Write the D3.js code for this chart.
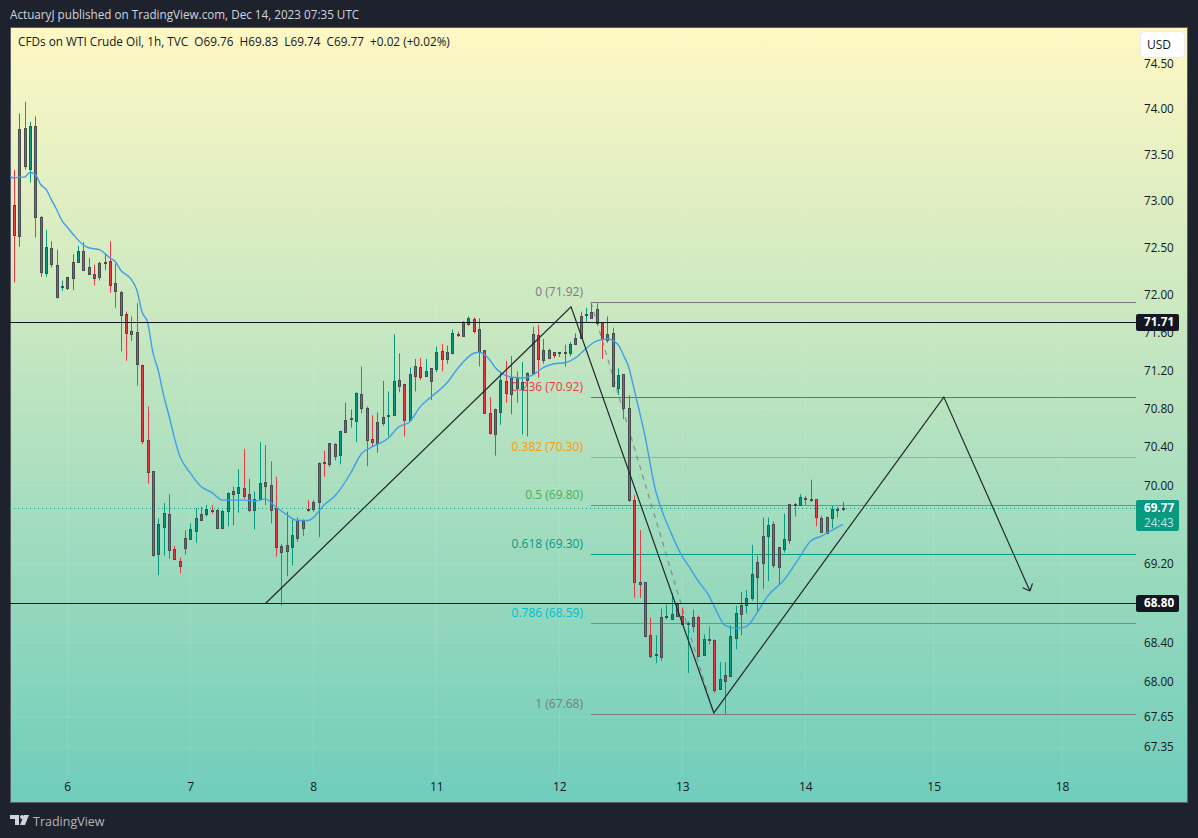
<!DOCTYPE html>
<html>
<head>
<meta charset="utf-8">
<script src="https://cdn.jsdelivr.net/npm/d3@7"></script>
<style>
  html, body { margin: 0; padding: 0; background: #1e222d; }
  svg { display: block; }
  text { font-family: "Open Sans", "Noto Sans", sans-serif; }
</style>
</head>
<body>
<script>
// hourly bars
var opens = [72.91,72.96,72.62,73.79,73.34,73.81,72.83,72.23,72.50,72.32,72.08,72.07,72.18,72.35,72.47,72.29,72.22,72.19,72.34,72.36,72.12,72.03,71.80,71.61,71.60,71.26,70.47,70.15,69.29,69.58,69.71,69.35,69.23,69.36,69.45,69.54,69.65,69.71,69.75,69.75,69.57,69.73,69.91,69.93,69.98,69.91,69.75,69.86,70.04,70.01,69.77,69.38,69.33,69.37,69.47,69.63,69.76,69.76,69.83,70.24,70.22,70.43,70.32,70.56,70.69,70.67,70.95,70.81,70.48,70.44,70.65,70.72,70.73,71.10,71.06,70.68,71.14,71.24,71.14,71.08,71.21,71.40,71.32,71.38,71.58,71.56,71.69,71.74,71.64,71.41,70.75,70.54,70.77,71.09,70.95,71.12,71.01,71.10,71.17,71.57,71.30,71.41,71.39,71.39,71.38,71.38,71.48,71.54,71.78,71.76,71.85,71.70,71.52,71.59,71.01,71.16,70.81,69.85,69.01,69.01,68.47,68.27,68.26,68.66,68.64,68.79,68.67,68.58,68.57,68.66,68.27,68.43,68.42,67.93,68.01,68.06,68.45,68.69,68.78,68.85,69.07,69.20,69.48,69.60,69.17,69.35,69.44,69.81,69.80,69.87,69.85,69.86,69.67,69.52,69.67,69.76,69.76];
var highs = [73.02,73.34,73.95,74.08,73.86,73.92,72.84,72.69,72.57,72.48,72.15,72.19,72.43,72.52,72.56,72.39,72.32,72.35,72.44,72.57,72.33,72.04,71.82,71.77,71.91,71.26,70.82,70.15,69.66,69.82,69.91,69.38,69.26,69.54,69.61,69.77,69.78,69.80,69.80,69.76,69.75,69.93,69.99,70.17,70.38,70.07,69.94,70.45,70.42,70.25,70.09,69.40,69.73,69.65,69.67,69.65,69.85,69.85,70.24,70.36,70.44,70.44,70.57,70.86,70.79,70.97,71.24,70.82,70.73,70.76,71.09,70.98,71.58,71.38,71.06,71.23,71.32,71.33,71.32,71.22,71.45,71.48,71.46,71.63,71.61,71.72,71.77,71.76,71.75,71.41,70.92,70.80,71.19,71.30,71.35,71.19,71.29,71.18,71.66,71.68,71.53,71.43,71.39,71.39,71.47,71.50,71.59,71.82,71.86,71.90,71.91,71.70,71.77,71.65,71.22,71.16,70.94,69.90,69.54,69.01,68.65,68.47,68.74,68.78,68.90,68.80,68.75,68.61,68.73,68.67,68.48,68.56,68.43,68.20,68.20,68.57,68.77,68.91,68.93,69.39,69.28,69.67,69.67,69.63,69.37,69.71,69.81,69.82,69.91,69.89,70.06,69.86,69.69,69.68,69.79,69.78,69.83];
var lows = [72.86,72.13,72.51,73.34,73.20,72.61,72.19,72.19,72.29,71.96,72.04,72.05,72.05,72.34,72.27,72.21,72.10,72.15,72.26,72.02,71.86,71.40,71.30,71.51,71.04,70.43,70.02,69.27,69.08,69.28,69.25,69.25,69.10,69.29,69.45,69.41,69.64,69.68,69.71,69.55,69.56,69.58,69.59,69.72,69.86,69.73,69.55,69.86,69.80,69.61,69.27,68.77,69.07,69.18,69.42,69.48,69.73,69.73,69.47,70.09,70.19,70.26,70.22,70.56,70.60,70.45,70.75,70.20,70.40,70.34,70.62,70.51,70.72,70.97,70.51,70.67,70.98,71.10,71.13,70.89,71.18,71.19,71.27,71.37,71.55,71.56,71.67,71.59,71.24,70.75,70.53,70.31,70.63,70.86,70.74,70.86,70.53,70.51,71.17,71.12,71.27,71.33,71.33,71.34,71.24,71.35,71.48,71.54,71.70,71.75,71.68,71.32,71.49,71.02,70.94,70.69,69.83,68.85,68.85,68.45,68.24,68.19,68.21,68.63,68.64,68.66,68.58,68.09,68.50,68.27,68.27,68.38,67.89,67.92,67.68,68.06,68.33,68.47,68.69,68.82,68.70,68.94,69.02,69.15,68.98,69.31,69.40,69.68,69.80,69.80,69.83,69.58,69.53,69.52,69.56,69.67,69.74];
var closes = [72.96,72.64,73.78,73.38,73.81,72.83,72.24,72.51,72.33,71.98,72.09,72.19,72.35,72.47,72.27,72.22,72.18,72.34,72.35,72.10,72.03,71.79,71.60,71.58,71.26,70.47,70.14,69.29,69.60,69.72,69.34,69.25,69.18,69.46,69.55,69.67,69.71,69.76,69.74,69.56,69.74,69.92,69.94,69.99,69.90,69.75,69.86,70.03,70.00,69.75,69.37,69.32,69.39,69.49,69.64,69.56,69.75,69.83,70.23,70.23,70.44,70.31,70.57,70.68,70.70,70.96,70.80,70.48,70.45,70.66,70.71,70.73,71.09,71.04,70.68,71.16,71.25,71.14,71.19,71.22,71.39,71.32,71.39,71.59,71.57,71.71,71.75,71.61,71.40,70.75,70.54,70.80,71.10,70.96,71.12,71.01,71.08,71.17,71.58,71.32,71.41,71.33,71.36,71.38,71.39,71.48,71.54,71.77,71.79,71.82,71.70,71.53,71.58,71.03,71.15,70.80,69.86,69.01,68.99,68.46,68.26,68.28,68.66,68.67,68.69,68.67,68.59,68.59,68.66,68.27,68.43,68.42,67.92,68.03,68.07,68.46,68.70,68.78,68.85,69.09,69.22,69.48,69.59,69.18,69.37,69.45,69.81,69.80,69.88,69.86,69.86,69.67,69.53,69.68,69.76,69.75,69.77];

// moving average readings
var maBars = [0,1,2,3,4,5,6,7,8,9,10,11,12,14,15,17,19,20,21,23,24,25,26,27,28,29,30,31,32,34,36,38,40,42,44,46,48,50,52,54,56,57,59,61,64,66,68,71,73,75,77,79,82,84,87,88,90,91,94,96,98,100,102,104,106,108,110,112,114,115,116,117,119,121,122,124,126,127,129,131,132,134,136,138,140,142,145,148,150,152,154,156];
var maValues = [73.28,73.25,73.26,73.26,73.31,73.29,73.18,73.13,73.02,72.91,72.79,72.72,72.65,72.53,72.50,72.48,72.39,72.35,72.26,72.16,72.05,71.81,71.71,71.39,71.20,70.94,70.73,70.50,70.31,70.13,69.99,69.93,69.85,69.85,69.85,69.84,69.86,69.78,69.70,69.64,69.64,69.67,69.80,69.89,70.13,70.33,70.40,70.49,70.61,70.66,70.82,70.92,71.07,71.22,71.38,71.39,71.31,71.23,71.13,71.12,71.15,71.23,71.27,71.28,71.33,71.43,71.51,71.53,71.47,71.36,71.23,71.00,70.52,69.95,69.77,69.50,69.27,69.19,69.02,68.87,68.76,68.57,68.54,68.56,68.70,68.87,69.03,69.27,69.43,69.48,69.54,69.60];

// fib retracement
var fibRatios = ["0","0.236","0.382","0.5","0.618","0.786","1"];
var fibPrices = [71.92,70.92,70.30,69.80,69.30,68.59,67.68];
var fibStartBar = 108.9, fibEndBar = 131.9;

// hand drawn zigzag + arrow
var zigBars = [48,105.2,131.9,174.9,191];
var zigPrices = [68.79,71.87,67.69,70.92,68.92];

var hLevels = [71.71,68.80];
var lastPrice = 69.77;
var countdown = "24:43";

var priceTicks = [74.50,74.00,73.50,73.00,72.50,72.00,71.60,71.20,70.80,70.40,70.00,69.20,68.40,68.00,67.65,67.35];
var dayBars = [11,34,57,80,103,126,149,173,197];
var dayLabels = ["6","7","8","11","12","13","14","15","18"];

var headerText = "ActuaryJ published on TradingView.com, Dec 14, 2023 07:35 UTC";
var legendText = "CFDs on WTI Crude Oil, 1h, TVC  O69.76  H69.83  L69.74  C69.77  +0.02 (+0.02%)";

var createChart = function() {
  let width = 1198, height = 838;
  let pane = { left: 10, top: 27, right: 1188, bottom: 803 };
  let plotRight = 1136;

  let green = "#089981", red = "#f23645", edge = "#484b50";
  let fibColor = d3.scaleOrdinal()
    .domain(fibRatios)
    .range(["#787b86", "#f23645", "#ff9800", "#4caf50", "#089981", "#00bcd4", "#787b86"]);

  let svg = d3.select("body").append("svg")
    .attr("width", width)
    .attr("height", height);

  // x is bar number, y is log price
  let x = d3.scaleLinear().domain([11, 149]).range([67.3, 805.3]);
  let y = d3.scaleLog().domain([74, 68]).range([109, 682]);

  let defs = svg.append("defs");
  let grad = defs.append("linearGradient")
    .attr("id", "paneFill")
    .attr("x1", 0).attr("y1", 0).attr("x2", 0).attr("y2", 1);
  grad.append("stop").attr("offset", "0%").attr("stop-color", "#fff8c4");
  grad.append("stop").attr("offset", "100%").attr("stop-color", "#6fcdbb");
  defs.append("clipPath").attr("id", "paneClip").append("rect")
    .attr("x", pane.left).attr("y", pane.top)
    .attr("width", pane.right - pane.left)
    .attr("height", pane.bottom - pane.top);

  svg.append("rect")
    .attr("x", pane.left + 0.5).attr("y", pane.top + 0.5)
    .attr("width", pane.right - pane.left - 1)
    .attr("height", pane.bottom - pane.top - 1)
    .attr("fill", "url(#paneFill)")
    .attr("stroke", "#5b6068");

  // faint grid
  svg.append("g").selectAll("line").data(dayBars).join("line")
    .attr("x1", d => x(d)).attr("x2", d => x(d))
    .attr("y1", pane.top + 1).attr("y2", 775)
    .attr("stroke", "#ffffff").attr("stroke-opacity", 0.1);
  svg.append("g").selectAll("line").data(priceTicks).join("line")
    .attr("x1", pane.left + 1).attr("x2", plotRight)
    .attr("y1", d => y(d)).attr("y2", d => y(d))
    .attr("stroke", "#ffffff").attr("stroke-opacity", 0.1);

  let chart = svg.append("g").attr("clip-path", "url(#paneClip)");

  // fib labels sit under the candles
  chart.append("g").selectAll("text").data(fibRatios).join("text")
    .attr("x", 583)
    .attr("y", (d, i) => y(fibPrices[i]) - 6)
    .attr("text-anchor", "end")
    .attr("font-size", 12)
    .attr("fill", d => fibColor(d))
    .text((d, i) => d + " (" + fibPrices[i].toFixed(2) + ")");

  chart.append("g").selectAll("line").data(fibRatios).join("line")
    .attr("x1", x(fibStartBar)).attr("x2", plotRight)
    .attr("y1", (d, i) => Math.round(y(fibPrices[i])) + 0.5)
    .attr("y2", (d, i) => Math.round(y(fibPrices[i])) + 0.5)
    .attr("stroke", d => fibColor(d));

  chart.append("line")
    .attr("x1", x(fibStartBar)).attr("y1", y(fibPrices[0]))
    .attr("x2", x(fibEndBar)).attr("y2", y(fibPrices[6]))
    .attr("stroke", "#787b86")
    .attr("stroke-opacity", 0.8)
    .attr("stroke-width", 1.2)
    .attr("stroke-dasharray", "5,5");

  // last price dotted line
  chart.append("line")
    .attr("x1", pane.left).attr("x2", plotRight)
    .attr("y1", Math.round(y(lastPrice)) + 0.5).attr("y2", Math.round(y(lastPrice)) + 0.5)
    .attr("stroke", green)
    .attr("stroke-dasharray", "1,3");

  // candles
  let isUp = i => closes[i] >= opens[i];
  let candles = chart.append("g").selectAll("g").data(opens).join("g");
  candles.append("line")
    .attr("x1", (d, i) => Math.round(x(i)) + 0.5)
    .attr("x2", (d, i) => Math.round(x(i)) + 0.5)
    .attr("y1", (d, i) => y(highs[i]))
    .attr("y2", (d, i) => y(lows[i]))
    .attr("stroke", (d, i) => isUp(i) ? green : red);
  candles.append("rect")
    .attr("x", (d, i) => Math.round(x(i)) - 0.5)
    .attr("width", 2)
    .attr("y", (d, i) => Math.round(y(Math.max(opens[i], closes[i]))) + 0.5)
    .attr("height", (d, i) => Math.max(1, Math.round(Math.abs(y(opens[i]) - y(closes[i])))))
    .attr("fill", (d, i) => isUp(i) ? green : red)
    .attr("stroke", edge);

  // moving average
  let maLine = d3.line()
    .x((d, i) => x(maBars[i]))
    .y(d => y(d))
    .curve(d3.curveMonotoneX);
  chart.append("path")
    .attr("d", maLine(maValues))
    .attr("fill", "none")
    .attr("stroke", "#3d9fe8")
    .attr("stroke-width", 1.4);

  // horizontal levels
  chart.append("g").selectAll("line").data(hLevels).join("line")
    .attr("x1", pane.left).attr("x2", plotRight)
    .attr("y1", d => Math.round(y(d)) + 0.5).attr("y2", d => Math.round(y(d)) + 0.5)
    .attr("stroke", "#131722")
    .attr("stroke-width", 1);

  // zigzag
  let zigLine = d3.line()
    .x((d, i) => x(zigBars[i]))
    .y(d => y(d));
  chart.append("path")
    .attr("d", zigLine(zigPrices))
    .attr("fill", "none")
    .attr("stroke", "#22262e")
    .attr("stroke-width", 1.2);

  // arrow head at the end of the zigzag
  let n = zigBars.length - 1;
  let tipX = x(zigBars[n]), tipY = y(zigPrices[n]);
  let angle = Math.atan2(tipY - y(zigPrices[n - 1]), tipX - x(zigBars[n - 1]));
  [-0.75, 0.75].forEach(a => {
    chart.append("line")
      .attr("x1", tipX).attr("y1", tipY)
      .attr("x2", tipX - 8 * Math.cos(angle + a))
      .attr("y2", tipY - 8 * Math.sin(angle + a))
      .attr("stroke", "#22262e")
      .attr("stroke-width", 1.2);
  });

  // price axis
  let yAxis = d3.axisRight(y)
    .tickValues(priceTicks)
    .tickSize(0)
    .tickPadding(0)
    .tickFormat(d3.format(".2f"));
  let yG = svg.append("g")
    .attr("transform", "translate(1144,0)")
    .call(yAxis);
  yG.select(".domain").remove();
  yG.selectAll("text").attr("font-size", 11.7).attr("fill", "#131722");

  // time axis
  let xAxis = d3.axisBottom(x)
    .tickValues(dayBars)
    .tickSize(0)
    .tickPadding(0)
    .tickFormat((d, i) => dayLabels[i]);
  let xG = svg.append("g")
    .attr("transform", "translate(0,782)")
    .call(xAxis);
  xG.select(".domain").remove();
  xG.selectAll("text").attr("font-size", 12).attr("fill", "#131722");

  // price boxes
  hLevels.forEach(level => {
    svg.append("rect")
      .attr("x", plotRight).attr("y", Math.round(y(level)) - 8)
      .attr("width", 43).attr("height", 17)
      .attr("rx", 2)
      .attr("fill", "#131722");
    svg.append("text")
      .attr("x", 1144).attr("y", y(level))
      .attr("dy", "0.35em")
      .attr("font-size", 11.7).attr("font-weight", 700)
      .attr("fill", "#ffffff")
      .text(level.toFixed(2));
  });
  svg.append("rect")
    .attr("x", plotRight).attr("y", 500)
    .attr("width", 43).attr("height", 31)
    .attr("rx", 2)
    .attr("fill", green);
  svg.append("text")
    .attr("x", 1144).attr("y", y(lastPrice))
    .attr("dy", "0.35em")
    .attr("font-size", 11.7).attr("font-weight", 700)
    .attr("fill", "#ffffff")
    .text(lastPrice.toFixed(2));
  svg.append("text")
    .attr("x", 1144).attr("y", y(lastPrice) + 15)
    .attr("dy", "0.35em")
    .attr("font-size", 11.7)
    .attr("fill", "#ffffff").attr("fill-opacity", 0.75)
    .text(countdown);

  // currency button
  svg.append("rect")
    .attr("x", 1140.5).attr("y", 31.5)
    .attr("width", 44).attr("height", 26)
    .attr("rx", 4)
    .attr("fill", "#ffffff")
    .attr("stroke", "#e8eaef");
  svg.append("text")
    .attr("x", 1159).attr("y", 49)
    .attr("text-anchor", "middle")
    .attr("font-size", 12)
    .attr("fill", "#131722")
    .text("USD");

  // header, legend, footer
  svg.append("text")
    .attr("x", 10).attr("y", 19)
    .attr("font-size", 11.7)
    .attr("fill", "#d1d4dc")
    .text(headerText);
  svg.append("text")
    .attr("x", 18).attr("y", 46)
    .attr("font-size", 11.78)
    .attr("fill", "#131722")
    .style("white-space", "pre")
    .text(legendText);

  let logo = svg.append("g").attr("fill", "#d1d4dc");
  logo.append("path").attr("d", "M10 815h9v10h-4v-6h-5z");
  logo.append("circle").attr("cx", 22).attr("cy", 817).attr("r", 2);
  logo.append("path").attr("d", "M24 815h5l-4 10h-5z");
  svg.append("text")
    .attr("x", 33).attr("y", 826)
    .attr("font-size", 12.5)
    .attr("fill", "#b2b5be")
    .text("TradingView");
}

createChart();
</script>
</body>
</html>
